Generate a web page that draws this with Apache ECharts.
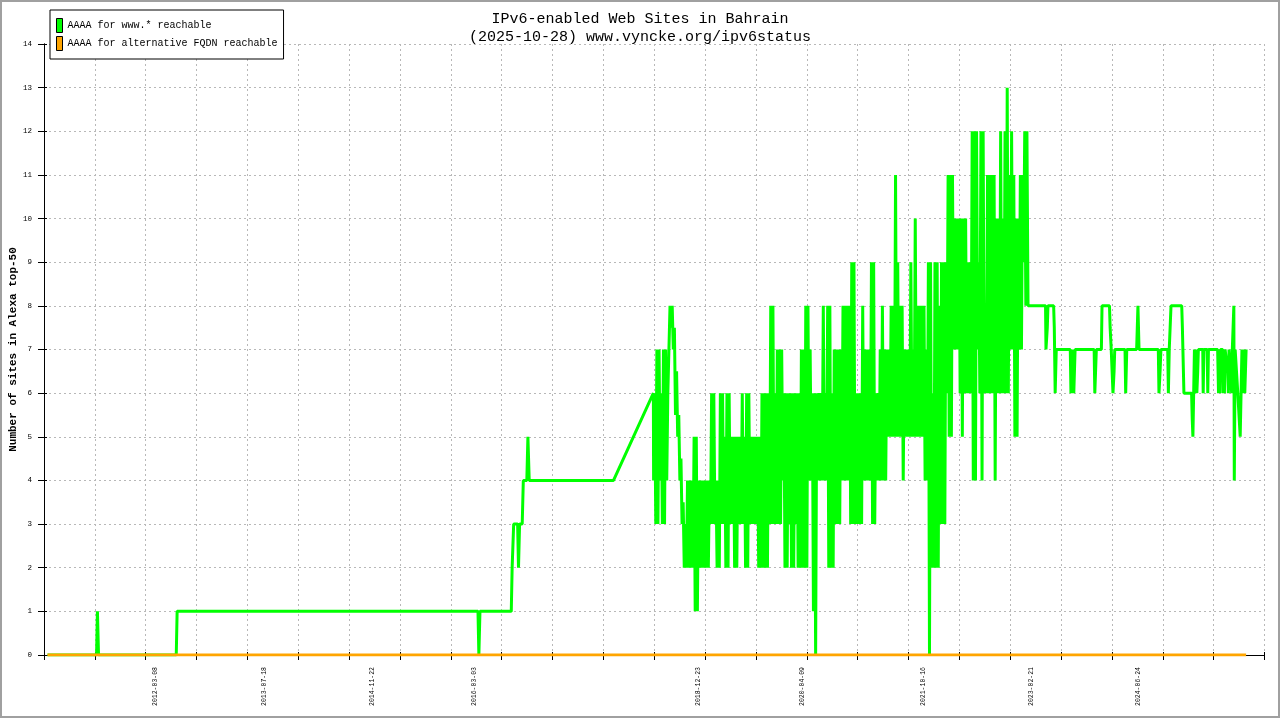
<!DOCTYPE html>
<html><head><meta charset="utf-8">
<script src="https://cdn.jsdelivr.net/npm/echarts@6/dist/echarts.min.js"></script>
<style>html,body{margin:0;padding:0;background:#fff}#c{width:1280px;height:720px}</style>
</head><body><div id="c"></div>
<script>
// ---- data ----
const axisStart = '2010-10-17';
const axisEnd = '2026-01-20';
const xTickCount = 24;
const xLabelDates = ['2012-03-08','2013-07-18','2014-11-22','2016-03-03','2018-12-23','2020-04-09','2021-10-16','2023-02-21','2024-06-24'];
const yMin = 0, yMax = 14, yStep = 1;
const seriesNames = ['AAAA for www.* reachable', 'AAAA for alternative FQDN reachable'];

const wwwEarlyDates = ['2010-11-02','2011-06-14','2011-06-18','2011-06-23','2012-06-12','2012-06-16','2016-03-21','2016-03-25','2016-03-30','2016-08-20','2016-08-24','2016-08-31','2016-09-18','2016-09-22','2016-09-27','2016-10-09','2016-10-14','2016-10-30','2016-11-04','2016-11-10','2017-11-30','2018-05-31'];
const wwwEarlyValues = [0,0,1,0,0,1,1,0,1,1,2,3,3,2,3,3,4,4,5,4,4,6];

// daily-measured period: lowest and highest reading in each 10-day window from denseStart
const denseStart = '2018-06-01';
const denseStepDays = 10;
const wwwDenseLow = [
 4,3,3,4,3,3,4,6,7.5,7, 5.5,5,4,3,2,2,2,2,2,1,
 1,2,2,2,2,2,3,3,3,2, 2,3,3,2,2,3,3,2,2,3,
 3,3,2,2,3,3,3,3,2,2, 2,2,2,3,3,3,3,3,3,4,
 2,2,3,2,2,3,2,2,2,2, 2,4,4,1,0,4,4,4,4,4,
 2,2,2,3,3,3,4,4,4,4, 3,3,3,3,3,3,4,4,4,4,
 3,3,4,4,4,4,4,5,5,5, 5,5,5,5,4,5,5,5,5,5,
 5,5,5,5,4,4,0,2,2,2, 2,3,3,3,6,5,5,7,7,7,
 6,5,6,6,6,6,4,4,7,6, 4,6,6,6,6,6,4,6,6,6,
 6,6,6,7,7,5,5,7,7,9, 8,8
];
const wwwDenseHigh = [
 6,7,7,6,7,7,6,8,8,7.5, 6.5,5.5,4.5,3.5,3,4,4,4,5,5,
 4,4,4,4,4,4,6,6,4,4, 6,6,5,6,6,5,5,5,5,5,
 6,5,6,6,5,5,5,5,5,6, 6,6,6,8,8,6,7,7,7,6,
 6,6,6,6,6,6,6,7,7,8, 8,7,6,6,6,6,6,8,6,8,
 8,6,7,7,7,7,8,8,8,8, 9,9,6,6,6,8,7,7,7,9,
 9,6,6,7,8,7,7,7,8,8, 11,9,8,8,7,7,7,9,7,10,
 8,8,8,8,7,9,9,6,9,9, 8,9,9,9,11,11,11,10,10,10,
 10,10,10,9,9,12,12,12,9,12, 12,8,11,11,11,11,10,10,12,10,
 12,13,11,12,11,10,10,11,11,12, 12,8
];

const wwwLateDates = ['2023-04-26','2023-04-28','2023-05-04','2023-05-07','2023-06-02','2023-06-05','2023-06-09','2023-06-14',
 '2023-08-17','2023-08-20','2023-08-27','2023-09-02','2023-09-08','2023-12-04','2023-12-07','2023-12-14',
 '2024-01-06','2024-01-09','2024-02-12','2024-02-15','2024-02-20','2024-02-25','2024-02-28','2024-03-04','2024-03-07',
 '2024-04-23','2024-04-26','2024-05-01','2024-06-15','2024-06-18','2024-06-21','2024-06-26',
 '2024-09-22','2024-09-25','2024-09-30','2024-10-04','2024-11-04','2024-11-07','2024-11-11','2024-11-16','2024-11-19',
 '2025-01-07','2025-01-10','2025-01-17','2025-02-21','2025-02-24','2025-02-27','2025-03-06',
 '2025-03-10','2025-03-13','2025-03-17','2025-03-21','2025-03-24','2025-04-13','2025-04-15','2025-04-18',
 '2025-05-03','2025-05-06','2025-05-09','2025-06-20','2025-06-22','2025-06-24','2025-06-27','2025-06-30','2025-07-03',
 '2025-07-13','2025-07-15','2025-07-18','2025-07-21','2025-07-24','2025-08-02','2025-08-05','2025-08-08','2025-08-11',
 '2025-08-20','2025-08-23','2025-08-26','2025-08-31','2025-09-02','2025-09-04','2025-09-08','2025-09-17','2025-09-20',
 '2025-09-28','2025-10-01','2025-10-05','2025-10-09','2025-10-14','2025-10-18','2025-10-22','2025-10-28'];
const wwwLateValues = [8,7,7.5,8,8,7.5,6,7,
 7,6,7,6,7,7,6,7,
 7,8,8,7.5,7,7,6,6.5,7,
 7,6,7,7,7.5,8,7,
 7,6,6.5,7,7,6,7,7,8,
 8,7.5,6,6,5.4,5,7,
 6,7,6,6.5,7,7,6,7,
 7,6,7,7,6.5,6,7,6,7,
 7,6,7,6,7,7,6.5,6,7,
 7,6,7,7,8,4,7,7,6,
 6,5,6,7,6,7,6,7];

const altDates = ['2010-11-02','2025-10-28'];
const altValues = [0,0];

// ---- helpers ----
const DAY = 86400000;
function utc(s){ const p = s.split('-').map(Number); return Date.UTC(p[0], p[1]-1, p[2]); }
const t0 = utc(axisStart);
function dayOf(s){ return Math.round((utc(s) - t0) / DAY); }
function dateOf(d){ return new Date(t0 + d * DAY).toISOString().slice(0,10); }

const xMax = dayOf(axisEnd);
const xInterval = xMax / xTickCount;

const ds = dayOf(denseStart);
const denseData = [];
wwwDenseLow.forEach((lo,i)=>{
  denseData.push([ds + i*denseStepDays, lo]);
  denseData.push([ds + i*denseStepDays + denseStepDays/2, wwwDenseHigh[i]]);
});
const earlyData = wwwEarlyDates.map((d,i)=>[dayOf(d), wwwEarlyValues[i]]);
const lateData = wwwLateDates.map((d,i)=>[dayOf(d), wwwLateValues[i]]);
const wwwData = earlyData.concat(denseData, lateData);
const altData = altDates.map((d,i)=>[dayOf(d), altValues[i]]);

const FONT = '"Liberation Mono", "DejaVu Sans Mono", monospace';
const gridLine = {show:true, lineStyle:{color:'#b8b8b8', type:[2,3], width:1}};
const GREEN = '#00ff00', ORANGE = '#ffa500';

const chart = echarts.init(document.getElementById('c'), null, {renderer:'canvas'});
chart.setOption({
  animation:false,
  backgroundColor:'#fff',
  title:{
    text: 'IPv6-enabled Web Sites in Bahrain\n(2025-10-28) www.vyncke.org/ipv6status',
    left:'center', top:5,
    textStyle:{fontFamily:FONT, fontSize:15, fontWeight:'normal', color:'#000', lineHeight:18}
  },
  legend:{
    left:50, top:10, orient:'vertical',
    padding:[8,6,8,6], itemGap:3, itemWidth:6, itemHeight:14,
    icon:'rect',
    borderColor:'#000', borderWidth:1, backgroundColor:'#fff',
    itemStyle:{borderColor:'#000', borderWidth:1},
    textStyle:{fontFamily:FONT, fontSize:10, color:'#000'},
    data: seriesNames
  },
  graphic:[{type:'rect', silent:true, z:-1, shape:{x:1,y:1,width:1278,height:716}, style:{fill:null, stroke:'#a0a0a0', lineWidth:2}}],
  grid:{left:44, right:15.5, top:44, bottom:65, containLabel:false, outerBoundsMode:'none'},
  xAxis:[{
    type:'value', min:0, max:xMax, interval:xInterval,
    axisLine:{show:true, onZero:false, lineStyle:{color:'#000', width:1}},
    axisTick:{show:true, length:5, lineStyle:{color:'#000'}},
    splitLine:gridLine,
    axisLabel:{show:true, customValues: xLabelDates.map(dayOf), rotate:90, margin:12,
      fontFamily:FONT, fontSize:6.5, color:'#000', formatter:(v)=>dateOf(v)}
  },{
    type:'value', min:0, max:xMax, interval:xInterval, position:'bottom',
    axisLine:{show:false}, axisTick:{show:true, inside:true, length:3, lineStyle:{color:'#000'}},
    splitLine:{show:false}, axisLabel:{show:false}
  }],
  yAxis:[{
    type:'value', min:yMin, max:yMax, interval:yStep,
    name:'Number of sites in Alexa top-50', nameLocation:'middle', nameRotate:90, nameGap:25,
    nameMoveOverlap:false,
    nameTextStyle:{fontFamily:FONT, fontSize:11, fontWeight:'bold', color:'#000'},
    axisLine:{show:true, onZero:false, lineStyle:{color:'#000', width:1}},
    axisTick:{show:true, length:6, lineStyle:{color:'#000'}},
    splitLine:gridLine,
    axisLabel:{fontFamily:FONT, fontSize:7.5, color:'#000', margin:12}
  },{
    type:'value', min:yMin, max:yMax, interval:yStep, position:'left',
    axisLine:{show:false}, axisTick:{show:true, inside:true, length:3, lineStyle:{color:'#000'}},
    splitLine:{show:false}, axisLabel:{show:false}
  },{
    type:'value', min:yMin, max:yMax, interval:yStep, position:'right',
    axisLine:{show:true, lineStyle:{color:'#000', width:1}}, axisTick:{show:false},
    splitLine:{show:false}, axisLabel:{show:false}
  }],
  series:[
    {name:seriesNames[0], type:'line', data:wwwData, showSymbol:false, symbol:'none',
     lineStyle:{color:GREEN, width:3}, itemStyle:{color:GREEN}, z:3},
    {name:seriesNames[1], type:'line', data:altData, showSymbol:false, symbol:'none',
     lineStyle:{color:ORANGE, width:3}, itemStyle:{color:ORANGE}, z:4}
  ]
});
</script></body></html>
